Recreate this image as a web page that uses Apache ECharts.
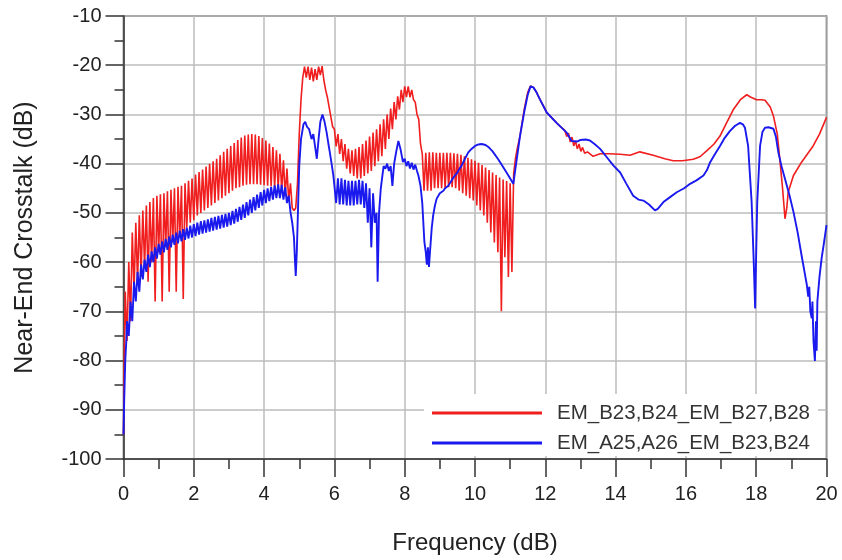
<!DOCTYPE html>
<html>
<head>
<meta charset="utf-8">
<script src="https://cdn.jsdelivr.net/npm/echarts@6/dist/echarts.min.js"></script>
<style>
html,body{margin:0;padding:0;background:#fff;}
#chart{width:842px;height:560px;}
</style>
</head>
<body>
<div id="chart"></div>
<script>
// Axis settings
const xTicks = [0, 2, 4, 6, 8, 10, 12, 14, 16, 18, 20];
const yTicks = [-100, -90, -80, -70, -60, -50, -40, -30, -20, -10];
const seriesNames = ['EM_B23,B24_EM_B27,B28', 'EM_A25,A26_EM_B23,B24'];

// Red trace (EM_B23,B24_EM_B27,B28), [frequency, dB]
const redLow = [
[0.0,-95],[0.02,-80],[0.05,-66],[0.1,-76],[0.15,-60],[0.2,-72],[0.25,-54],[0.3,-66],[0.35,-52],[0.4,-64],
[0.45,-50.5],[0.5,-63],[0.55,-49.5],[0.6,-61],[0.65,-48.5],[0.7,-64],[0.75,-47.8],[0.8,-60],[0.85,-47],[0.9,-68],
[0.95,-46.5],[1.0,-58],[1.05,-46.2],[1.1,-68],[1.15,-46],[1.2,-57],[1.25,-45.6],[1.3,-66],[1.35,-45.3],[1.4,-56],
[1.45,-45],[1.5,-66],[1.55,-44.7],[1.6,-55],[1.65,-44.5],[1.7,-67.5],[1.75,-44],[1.8,-53],[1.85,-43.5],[1.9,-52],
[1.95,-43],[2.0,-51.5],[2.05,-42.2],[2.1,-50.5],[2.15,-41.7],[2.2,-50],[2.25,-41.2],[2.3,-49.5],[2.35,-40.6],[2.4,-49],
[2.45,-40],[2.5,-48.5],[2.55,-39.5],[2.6,-48],[2.65,-39],[2.7,-47.5],[2.75,-38.3],[2.8,-47],[2.85,-37.6],[2.9,-46.5],
[2.95,-37],[3.0,-46],[3.05,-36.4],[3.1,-45.5],[3.15,-35.8],[3.2,-45],[3.25,-35.2],[3.3,-44.8],[3.35,-34.7],[3.4,-44.5],
[3.45,-34.3],[3.5,-44.3],[3.55,-34.1],[3.6,-44.2],[3.65,-34],[3.7,-44.2],[3.75,-34.1],[3.8,-44.2],[3.85,-34.4],[3.9,-44.3],
[3.95,-34.8],[4.0,-44.4],[4.05,-35.3],[4.1,-44.5],[4.15,-35.9],[4.2,-44.6],[4.25,-36.6],[4.3,-44.8],[4.35,-37.3],[4.4,-45],
[4.45,-38],[4.5,-45.5],[4.55,-39.3],[4.6,-46.5],[4.65,-41],[4.7,-47.5],[4.75,-44],[4.8,-49],[4.85,-49.5],[4.9,-49]
];
const redMid = [
[4.95,-44],[5.0,-34],[5.05,-27],[5.1,-22.5],[5.15,-20.3],[5.2,-22.5],[5.25,-20.3],[5.3,-23],[5.35,-20.5],[5.4,-23.3],
[5.45,-20.8],[5.5,-23],[5.55,-20.3],[5.6,-22],[5.65,-20.2],[5.7,-23],[5.75,-25],[5.8,-26.5],[5.85,-28.5],[5.9,-30.5],
[5.95,-32.5],[6.0,-33],[6.05,-36.5],[6.1,-34],[6.15,-38],[6.2,-35],[6.25,-39.5],[6.3,-36],[6.35,-41],[6.4,-37],
[6.45,-42],[6.5,-37.3],[6.55,-42.5],[6.6,-37],[6.65,-43],[6.7,-36.6],[6.75,-43],[6.8,-36],[6.85,-42.5],[6.9,-35.3],
[6.95,-42],[7.0,-34.5],[7.05,-41.5],[7.1,-33.7],[7.15,-40.5],[7.2,-33],[7.25,-39.5],[7.3,-32],[7.35,-38.5],[7.4,-31],
[7.45,-37],[7.5,-30],[7.55,-35],[7.6,-28.8],[7.65,-33],[7.7,-27.5],[7.75,-31],[7.8,-26.3],[7.85,-29],[7.9,-25],
[7.95,-27.5],[8.0,-24.3],[8.05,-26.5],[8.1,-24.3],[8.15,-26.5],[8.2,-25],[8.25,-27],[8.3,-27.5],[8.35,-30],[8.4,-31],
[8.45,-36],[8.5,-38],[8.55,-45.5],[8.6,-37.8],[8.65,-45.5],[8.7,-37.7],[8.75,-45.5],[8.8,-37.7],[8.85,-45],[8.9,-37.8],
[8.95,-45],[9.0,-37.8],[9.05,-45],[9.1,-37.8],[9.15,-45],[9.2,-37.8],[9.25,-44.8],[9.3,-37.8],[9.35,-44.8],[9.4,-37.9],
[9.45,-45],[9.5,-38],[9.55,-45.5],[9.6,-38.2],[9.65,-46],[9.7,-38.5],[9.75,-46.5],[9.8,-38.8],[9.85,-47],[9.9,-39.1],
[9.95,-47.5],[10.0,-39.4],[10.05,-48.5],[10.1,-39.8],[10.15,-49.5],[10.2,-40.3],[10.25,-50.5],[10.3,-40.8],[10.35,-52],[10.4,-41.3],
[10.45,-54],[10.5,-41.8],[10.55,-56],[10.6,-42.3],[10.65,-58],[10.7,-42.8],[10.75,-70],[10.8,-43.2],[10.85,-59],[10.9,-43.5],
[10.95,-63],[11.0,-44],[11.05,-62],[11.1,-42]
];
const redHigh = [
[11.15,-39],[11.2,-37],[11.28,-34.4],[11.4,-29],[11.5,-25.5],[11.58,-24.2],[11.66,-24.5],[11.75,-25.5],[11.85,-27],[11.95,-28.3],
[12.04,-29.6],[12.2,-30.8],[12.32,-31.7],[12.45,-32.6],[12.55,-33.2],[12.61,-34.5],[12.66,-33.8],[12.71,-35.6],[12.76,-34.6],[12.81,-36.4],
[12.86,-35.4],[12.91,-37],[12.96,-36],[13.01,-37.5],[13.06,-36.7],[13.12,-37.9],[13.2,-37.6],[13.36,-38.5],[13.56,-38],[13.8,-38],
[14.13,-38.1],[14.41,-38.3],[14.69,-37.6],[15.07,-38.3],[15.4,-39],[15.64,-39.4],[15.9,-39.4],[16.21,-39.1],[16.4,-38.6],[16.59,-37.4],
[16.8,-36],[16.97,-34.4],[17.15,-31.8],[17.35,-29],[17.55,-27],[17.73,-26],[17.85,-26.5],[18.01,-27],[18.15,-27],[18.25,-27.1],
[18.4,-28.5],[18.49,-30.3],[18.6,-34],[18.68,-39.7],[18.75,-45],[18.82,-51.2],[18.87,-49],[18.91,-45.8],[19.06,-42.4],[19.29,-39.7],
[19.62,-36.4],[19.8,-34],[20.0,-30.6]
];

// Blue trace (EM_A25,A26_EM_B23,B24), [frequency, dB]
const blueLow = [
[0.0,-95],[0.02,-88],[0.05,-80],[0.08,-76],[0.1,-72],[0.15,-75],[0.2,-68],[0.25,-72],[0.3,-64],[0.35,-68],
[0.4,-62],[0.45,-66],[0.5,-60.5],[0.55,-63.5],[0.6,-59.5],[0.65,-62],[0.7,-58.5],[0.75,-61],[0.8,-57.8],[0.85,-60],
[0.9,-57],[0.95,-59.3],[1.0,-56.3],[1.05,-58.5],[1.1,-55.8],[1.15,-58],[1.2,-55.3],[1.25,-57.5],[1.3,-54.8],[1.35,-57],
[1.4,-54.4],[1.45,-56.5],[1.5,-54],[1.55,-56.2],[1.6,-53.6],[1.65,-55.8],[1.7,-53.3],[1.75,-55.5],[1.8,-53],[1.85,-55.2],
[1.9,-52.6],[1.95,-55],[2.0,-52.3],[2.05,-54.7],[2.1,-52],[2.15,-54.4],[2.2,-51.7],[2.25,-54.2],[2.3,-51.5],[2.35,-54],
[2.4,-51.3],[2.45,-53.8],[2.5,-51],[2.55,-53.6],[2.6,-50.8],[2.65,-53.4],[2.7,-50.6],[2.75,-53.2],[2.8,-50.4],[2.85,-53],
[2.9,-50.2],[2.95,-52.8],[3.0,-50],[3.05,-52.5],[3.1,-49.6],[3.15,-52.2],[3.2,-49.2],[3.25,-51.8],[3.3,-48.8],[3.35,-51.4],
[3.4,-48.3],[3.45,-51],[3.5,-47.8],[3.55,-50.5],[3.6,-47.3],[3.65,-50],[3.7,-46.8],[3.75,-49.5],[3.8,-46.3],[3.85,-49],
[3.9,-45.8],[3.95,-48.5],[4.0,-45.3],[4.05,-48],[4.1,-45],[4.15,-47.6],[4.2,-44.7],[4.25,-47.3],[4.3,-44.4],[4.35,-47],
[4.4,-44.2],[4.45,-47],[4.5,-44.3],[4.55,-47.3],[4.6,-44.8],[4.65,-48],[4.7,-46.5],[4.75,-49.8],[4.8,-52],[4.85,-55],
[4.88,-60],[4.9,-62.8],[4.93,-58],[4.97,-48]
];
const blueMid = [
[5.0,-40.4],[5.05,-35],[5.12,-32],[5.17,-31.5],[5.22,-32.5],[5.28,-33],[5.35,-35],[5.4,-34],[5.45,-36.5],[5.5,-39],
[5.55,-35],[5.6,-31.5],[5.66,-30],[5.72,-31.5],[5.78,-33.7],[5.83,-36],[5.87,-37.7],[5.92,-40],[5.97,-42.4],[6.05,-48],
[6.1,-43],[6.15,-48.3],[6.2,-43],[6.25,-48.3],[6.3,-43.3],[6.35,-48.5],[6.4,-43.5],[6.45,-48.5],[6.5,-43.5],[6.55,-48.5],
[6.6,-43.5],[6.65,-48.3],[6.7,-43.3],[6.75,-48.3],[6.8,-43.5],[6.85,-49],[6.9,-44],[6.95,-52],[7.0,-45],[7.05,-57],
[7.1,-46],[7.15,-52],[7.2,-50],[7.23,-64],[7.27,-50],[7.32,-45],[7.4,-40.5],[7.45,-41],[7.5,-40],[7.55,-41.5],
[7.6,-40.5],[7.65,-44.5],[7.7,-40],[7.76,-37.5],[7.82,-35.4],[7.88,-37],[7.95,-39.7],[8.0,-39],[8.05,-40.5],[8.1,-39.5],
[8.15,-41],[8.2,-39.8],[8.25,-41.2],[8.3,-40.2],[8.35,-41.5],[8.39,-42.4],[8.45,-44.5],[8.5,-48],[8.56,-55.9],[8.6,-58],
[8.63,-60.5],[8.66,-57],[8.69,-61],[8.72,-57.9],[8.77,-53],[8.81,-50.5],[8.86,-48.5],[8.91,-47.1],[8.96,-46.8],[9.0,-46],
[9.05,-45.8],[9.1,-45.5],[9.15,-45],[9.24,-44.5],[9.3,-43.8],[9.35,-43.2],[9.43,-42.4],[9.5,-41.8],[9.56,-41],[9.62,-40.4],
[9.7,-39.2],[9.81,-37.7],[9.9,-37],[10.0,-36.4],[10.1,-36.1],[10.19,-36],[10.3,-36.2],[10.38,-36.6],[10.5,-37.5],[10.66,-39.1],
[10.8,-40.7],[10.95,-42.4],[11.09,-44.1]
];
const blueHigh = [
[11.15,-41],[11.28,-34.4],[11.4,-29.5],[11.5,-26],[11.58,-24.3],[11.66,-24.5],[11.75,-25.5],[11.85,-27],[12.04,-29.6],[12.32,-31.7],
[12.61,-33.7],[12.75,-35.4],[12.9,-35.5],[12.99,-35.2],[13.15,-35.1],[13.27,-35.3],[13.4,-36],[13.56,-37],[13.75,-38.7],[13.94,-40.4],
[14.13,-41.8],[14.3,-44],[14.5,-46.5],[14.65,-47.3],[14.79,-47.5],[14.95,-48.3],[15.12,-49.5],[15.2,-49.2],[15.36,-47.8],[15.55,-46.8],
[15.74,-45.8],[15.95,-45],[16.12,-44.1],[16.3,-43.4],[16.5,-42.4],[16.6,-41.3],[16.69,-39.7],[16.85,-37.8],[16.97,-36.4],[17.1,-34.8],
[17.25,-33.4],[17.4,-32.3],[17.54,-31.7],[17.62,-32],[17.68,-32.7],[17.77,-36.4],[17.87,-47.8],[17.93,-60],[17.97,-69.4],[18.0,-58],
[18.03,-47.8],[18.11,-36.4],[18.18,-33.5],[18.25,-32.7],[18.35,-32.6],[18.49,-32.9],[18.56,-34.5],[18.63,-37.7],[18.72,-40.5],[18.82,-43.1],
[18.95,-46.5],[19.06,-49.8],[19.18,-54],[19.29,-58.6],[19.35,-61],[19.4,-63],[19.44,-64.6],[19.48,-67],[19.51,-65],[19.54,-70],
[19.58,-71.4],[19.6,-68],[19.63,-76],[19.67,-80.1],[19.7,-72],[19.72,-78],[19.74,-68],[19.8,-63],[19.86,-59.3],[19.93,-56],
[20.0,-52.5]
];

const redData = redLow.concat(redMid, redHigh);
const blueData = blueLow.concat(blueMid, blueHigh);

const FONT = "'Liberation Sans', Arial, sans-serif";
const chart = echarts.init(document.getElementById('chart'), null, {renderer: 'canvas'});
chart.setOption({
  animation: false,
  backgroundColor: '#fff',
  grid: {left: 123.5, right: 15.5, top: 16, bottom: 98.3, show: true, borderColor: '#444', borderWidth: 1.5, containLabel: false},
  xAxis: {
    type: 'value', min: xTicks[0], max: xTicks[xTicks.length - 1], interval: 2,
    name: 'Frequency (dB)', nameLocation: 'middle', nameGap: 72,
    nameTextStyle: {fontFamily: FONT, fontSize: 24, color: '#222'},
    axisLine: {show: true, onZero: false, lineStyle: {color: '#333', width: 1.5}},
    axisTick: {show: true, inside: false, length: 18, lineStyle: {color: '#333', width: 1.5}},
    minorTick: {show: true, splitNumber: 2, length: 10, lineStyle: {color: '#333', width: 1.5}},
    axisLabel: {fontFamily: FONT, fontSize: 20, color: '#222', margin: 25},
    splitLine: {show: true, lineStyle: {color: '#bdbdbd', width: 1.5}}
  },
  yAxis: {
    type: 'value', min: yTicks[0], max: yTicks[yTicks.length - 1], interval: 10,
    name: 'Near-End Crosstalk (dB)', nameLocation: 'middle', nameGap: 86, nameRotate: 90,
    nameTextStyle: {fontFamily: FONT, fontSize: 25, color: '#222'},
    axisLine: {show: true, onZero: false, lineStyle: {color: '#333', width: 1.5}},
    axisTick: {show: true, inside: false, length: 18, lineStyle: {color: '#333', width: 1.5}},
    minorTick: {show: true, splitNumber: 2, length: 9, lineStyle: {color: '#333', width: 1.5}},
    axisLabel: {fontFamily: FONT, fontSize: 20, color: '#222', margin: 22},
    splitLine: {show: true, lineStyle: {color: '#bdbdbd', width: 1.5}}
  },
  legend: {
    orient: 'vertical', left: 424, top: 394,
    backgroundColor: '#fff', padding: [8, 8, 2, 8],
    itemWidth: 110, itemHeight: 3, itemGap: 8, icon: 'rect',
    textStyle: {fontFamily: FONT, fontSize: 20.5, color: '#333', lineHeight: 22, padding: [0, 0, 0, 10]},
    data: seriesNames
  },
  series: [
    {name: seriesNames[0], type: 'line', data: redData, showSymbol: false, symbol: 'none',
     lineStyle: {color: '#f01e1e', width: 1.6}, itemStyle: {color: '#f01e1e'}, z: 3},
    {name: seriesNames[1], type: 'line', data: blueData, showSymbol: false, symbol: 'none',
     lineStyle: {color: '#1a1aee', width: 1.9}, itemStyle: {color: '#1a1aee'}, z: 4}
  ]
});
</script>
</body>
</html>
